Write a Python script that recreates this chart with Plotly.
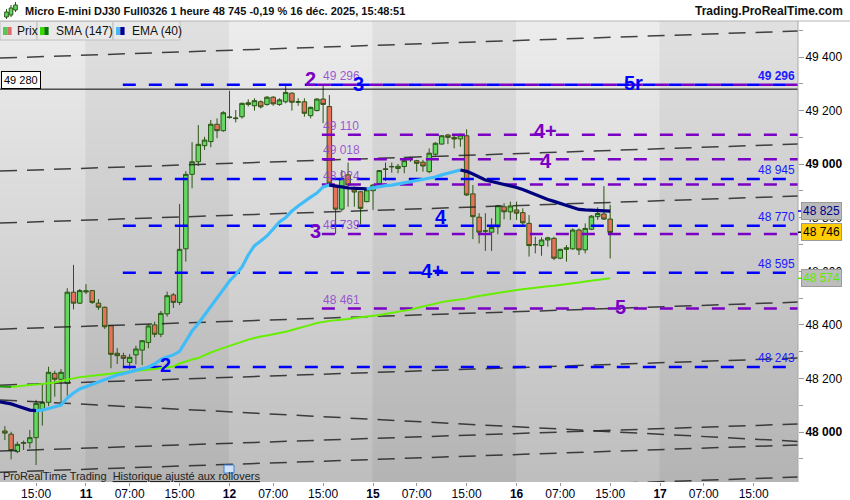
import plotly.graph_objects as go

# ---------------- data ----------------
first_bar = -13
opens = [48004, 47992, 47927, 47958, 47960, 47979, 48085, 48111, 48219, 48197, 48182, 48522, 48481,
         48523, 48528, 48481, 48466, 48397, 48294, 48285, 48260, 48288, 48306, 48334, 48400, 48365, 48441, 48512,
         48484, 48684, 48962, 49009, 49069, 49084, 49149, 49125,
         49174, 49170, 49177, 49223, 49218, 49233, 49223, 49250, 49223, 49233, 49265, 49231, 49233, 49181, 49200,
         49243, 49215, 48916, 48832, 48960, 48910, 48897, 48860,
         48901, 48928, 48980, 48990, 48984, 48991, 49020, 49013, 49007, 48972, 49037, 49075, 49109, 49100, 49094,
         49106, 48889, 48802, 48750, 48746, 48766, 48841, 48822,
         48829, 48819, 48779, 48700, 48696, 48717, 48723, 48649, 48682, 48684, 48754, 48680, 48757, 48804, 48814,
         48795]
highs = [48022, 48001, 47964, 47968, 48008, 48120, 48176, 48244, 48229, 48235, 48537, 48624, 48534,
         48552, 48530, 48496, 48468, 48399, 48313, 48296, 48291, 48322, 48341, 48403, 48412, 48452, 48524, 48519,
         48851, 48974, 49082, 49146, 49102, 49165, 49171, 49198,
         49274, 49202, 49230, 49242, 49246, 49238, 49254, 49254, 49246, 49296, 49268, 49246, 49246, 49215, 49246,
         49296, 49258, 48922, 48978, 49006, 48916, 48899, 48906,
         48926, 48978, 49006, 49006, 49001, 49028, 49028, 49016, 49016, 49059, 49082, 49109, 49113, 49109, 49115,
         49130, 48922, 48817, 48817, 48798, 48848, 48854, 48860,
         48860, 48835, 48810, 48729, 48727, 48729, 48729, 48684, 48698, 48760, 48760, 48779, 48810, 48839, 48918,
         48848]
lows = [47970, 47898, 47921, 47933, 47939, 47877, 48024, 48097, 48132, 48110, 48136, 48458, 48478,
        48515, 48478, 48456, 48385, 48238, 48254, 48244, 48235, 48253, 48250, 48313, 48354, 48354, 48431, 48463,
        48474, 48636, 48910, 48993, 49053, 49063, 49097, 49121,
        49170, 49156, 49170, 49215, 49200, 49208, 49218, 49218, 49218, 49227, 49200, 49218, 49177, 49171, 49197,
        49153, 48916, 48739, 48823, 48841, 48841, 48775, 48858,
        48829, 48925, 48937, 48968, 48966, 48966, 49009, 48972, 48972, 48966, 49032, 49073, 49075, 49059, 49065,
        48881, 48720, 48704, 48676, 48676, 48738, 48794, 48792,
        48792, 48767, 48655, 48667, 48658, 48692, 48642, 48645, 48636, 48680, 48661, 48667, 48754, 48792, 48792,
        48648]
closes = [47996, 47931, 47954, 47960, 47979, 48107, 48111, 48223, 48197, 48223, 48522, 48481, 48528,
          48527, 48484, 48466, 48393, 48290, 48285, 48275, 48279, 48310, 48341, 48396, 48365, 48443, 48509, 48484,
          48682, 48962, 49009, 49074, 49090, 49149, 49125, 49192,
          49176, 49172, 49227, 49229, 49237, 49214, 49250, 49225, 49240, 49268, 49231, 49233, 49190, 49212, 49243,
          49223, 48929, 48832, 48947, 48922, 48896, 48835, 48904,
          48922, 48976, 48982, 48991, 48992, 49013, 49022, 49003, 48993, 49041, 49078, 49106, 49100, 49094, 49109,
          48885, 48804, 48746, 48751, 48764, 48845, 48822, 48844,
          48817, 48781, 48696, 48699, 48717, 48725, 48649, 48682, 48688, 48754, 48680, 48760, 48806, 48816, 48795,
          48745]
bars = list(range(first_bar, first_bar + len(opens)))

first_ma = -14
ema40 = [48114, 48110, 48105, 48097, 48090, 48082, 48080, 48082, 48088, 48093, 48101, 48127, 48146, 48161,
         48170, 48179, 48187, 48194, 48205, 48213, 48218, 48224, 48228, 48235, 48243, 48254, 48271, 48280, 48288,
         48301, 48340, 48377, 48405, 48437, 48472, 48500, 48536,
         48564, 48588, 48616, 48661, 48696, 48713, 48732, 48758, 48784, 48801, 48825, 48844, 48862, 48877, 48892,
         48915, 48922, 48920, 48915, 48911, 48910, 48909, 48908,
         48913, 48918, 48920, 48922, 48926, 48930, 48933, 48937, 48943, 48946, 48952, 48960, 48967, 48974, 48978,
         48973, 48963, 48952, 48941, 48935, 48930, 48926, 48920,
         48913, 48905, 48896, 48885, 48875, 48868, 48861, 48853, 48844, 48836, 48831, 48829, 48828, 48827, 48825,
         48825]
sma147 = [48170, 48169, 48168, 48171, 48174, 48176, 48177, 48179, 48181, 48185, 48191, 48196, 48202, 48205,
          48207, 48210, 48213, 48216, 48219, 48222, 48223, 48226, 48228, 48230, 48232, 48235, 48239, 48243, 48245,
          48256, 48265, 48271, 48276, 48288, 48297, 48306, 48314,
          48321, 48329, 48338, 48345, 48351, 48357, 48360, 48364, 48369, 48374, 48381, 48387, 48392, 48400, 48407,
          48412, 48415, 48417, 48419, 48422, 48426, 48428, 48431,
          48434, 48437, 48441, 48443, 48447, 48452, 48457, 48463, 48469, 48474, 48480, 48485, 48489, 48492, 48495,
          48498, 48504, 48508, 48512, 48515, 48519, 48523, 48526,
          48530, 48533, 48536, 48540, 48541, 48544, 48546, 48549, 48551, 48553, 48558, 48562, 48565, 48568, 48571,
          48574]
ma_x = list(range(first_ma, first_ma + len(ema40)))

blue_levels = [49296, 48945, 48770, 48595, 48243]
purple_levels = [49296, 49110, 49018, 48924, 48739, 48461]
ref_level = 49280
last_price = 48746
last_ema = 48825
last_sma = 48574

# sloped dashed channel lines: price at left edge / right edge of the view
trend_left = [49396, 48974, 48780, 48384, 48175, 47929, 47850, 47731, 48120]
trend_right = [49497, 49075, 48881, 48485, 48276, 48030, 47952, 47832, 47965]

x_ticks = [-8, 0, 7, 15, 23, 30, 38, 46, 53, 61, 69, 76, 84, 92, 99, 107]
x_labels = ["15:00", "11", "07:00", "15:00", "12", "07:00", "15:00", "15", "07:00", "15:00",
            "16", "07:00", "15:00", "17", "07:00", "15:00"]
day_starts = [0, 23, 46, 69, 92]
y_ticks = [48000, 48200, 48400, 48600, 48800, 49000, 49200, 49400]

# ---------------- layout helpers ----------------
W, H = 850, 500
PL, PR, PT, PB = 0, 798, 21, 482
X0, X1 = -13.78, 114.1
Y0, Y1 = 47813.5, 49534.4
FONT = "Liberation Sans, Arial, sans-serif"
BLUE = "#0000ff"
PURPLE = "#7a00c4"


def pxx(x):
    return (x - PL) / (PR - PL)


def pxy(y):
    return (PB - y) / (PB - PT)


def fmt(v):
    return f"{v:,.0f}".replace(",", " ")


fig = go.Figure()

# sloped dashed lines
for a, b in zip(trend_left, trend_right):
    fig.add_trace(go.Scatter(x=[X0, X1], y=[a, b], mode="lines",
                             line=dict(color="rgba(35,35,35,0.85)", width=1.5, dash="17px,10px"),
                             hoverinfo="skip", showlegend=False))

# reference line
fig.add_trace(go.Scatter(x=[X0, X1], y=[ref_level, ref_level], mode="lines",
                         line=dict(color="#000000", width=1), hoverinfo="skip", showlegend=False))

# candles
fig.add_trace(go.Candlestick(
    x=bars, open=opens, high=highs, low=lows, close=closes,
    increasing=dict(fillcolor="#62d862", line=dict(color="#2b5513", width=1)),
    decreasing=dict(fillcolor="#e8715e", line=dict(color="#2b5513", width=1)),
    whiskerwidth=0, showlegend=False, hoverinfo="skip"))

# horizontal levels
BLUE_START = 5.9
PURPLE_START = 37.8
for i, lv in enumerate(purple_levels):
    xs = PURPLE_START if i > 0 else 37.15
    fig.add_trace(go.Scatter(x=[xs, X1], y=[lv, lv], mode="lines",
                             line=dict(color=PURPLE, width=2.5, dash="13px,13px"),
                             hoverinfo="skip", showlegend=False))
for lv in blue_levels:
    fig.add_trace(go.Scatter(x=[BLUE_START, X1], y=[lv, lv], mode="lines",
                             line=dict(color=BLUE, width=2.5, dash="13px,13px"),
                             hoverinfo="skip", showlegend=False))


def colored(xs, ys, up, down, width):
    segs = []
    cur_c, cx, cy = None, [], []
    for i in range(len(xs) - 1):
        c = up if ys[i + 1] > ys[i] else down
        if c != cur_c:
            if cx:
                segs.append((cur_c, cx, cy))
            cur_c, cx, cy = c, [xs[i]], [ys[i]]
        cx.append(xs[i + 1])
        cy.append(ys[i + 1])
    segs.append((cur_c, cx, cy))
    for c, sx, sy in segs:
        fig.add_trace(go.Scatter(x=sx, y=sy, mode="lines", line=dict(color=c, width=width),
                                 hoverinfo="skip", showlegend=False))


colored(ma_x, sma147, "#66ee00", "#2a9a10", 2)
colored(ma_x, ema40, "#40bdf8", "#00007e", 3.2)

shapes = []
# background gradient
N = 47
for k in range(N):
    ya = PT + k * (PB - PT) / N
    yb = PT + (k + 1) * (PB - PT) / N + 0.8
    t = (k + 0.5) / N
    g = int(round(237 - t * (237 - 189)))
    shapes.append(dict(type="rect", xref="paper", yref="paper", x0=0, x1=1,
                       y0=pxy(min(yb, PB)), y1=pxy(ya), line=dict(width=0),
                       fillcolor=f"rgb({g},{g},{g})", layer="below"))
# darker day bands
for d0, d1 in [(day_starts[0], day_starts[1]), (day_starts[2], day_starts[3]), (day_starts[4], X1 + 1)]:
    shapes.append(dict(type="rect", xref="x", yref="paper", x0=d0 - 0.1, x1=min(d1 - 0.1, X1),
                       y0=0, y1=1, line=dict(width=0), fillcolor="rgba(0,0,0,0.05)", layer="below"))
# header separator
shapes.append(dict(type="line", xref="paper", yref="paper", x0=0, x1=W / PR, y0=1, y1=1,
                   line=dict(color="#b4b4b4", width=1)))
# legend boxes
for xa, xb in [(0, 37), (37, 113), (113, 180)]:
    shapes.append(dict(type="rect", xref="paper", yref="paper", x0=pxx(xa), x1=pxx(xb),
                       y0=pxy(40), y1=pxy(21.5), fillcolor="#e9e9e9", line=dict(color="#c0c0c0", width=1)))
for xa, c1, c2 in [(3, "#55c855", "#e26a6a"), (40, "#33dd00", "#007a00"), (116, "#47b8f5", "#000099")]:
    shapes.append(dict(type="rect", xref="paper", yref="paper", x0=pxx(xa), x1=pxx(xa + 4.3),
                       y0=pxy(35), y1=pxy(27), fillcolor=c1, line=dict(width=0)))
    shapes.append(dict(type="rect", xref="paper", yref="paper", x0=pxx(xa + 4.3), x1=pxx(xa + 8.6),
                       y0=pxy(35), y1=pxy(27), fillcolor=c2, line=dict(width=0)))
# header icon (three small candles)
for cx, wy0, wy1, by0, by1 in [(6.5, 9, 19, 12, 17), (11, 5, 17, 8, 15), (15.5, 2, 12, 5, 10)]:
    shapes.append(dict(type="line", xref="paper", yref="paper", x0=pxx(cx), x1=pxx(cx),
                       y0=pxy(wy1), y1=pxy(wy0), line=dict(color="#2b5513", width=1)))
    shapes.append(dict(type="rect", xref="paper", yref="paper", x0=pxx(cx - 1.8), x1=pxx(cx + 1.8),
                       y0=pxy(by1), y1=pxy(by0), fillcolor="#62d862", line=dict(color="#2b5513", width=1)))
# calendar icon
shapes.append(dict(type="rect", xref="paper", yref="paper", x0=pxx(224), x1=pxx(234),
                   y0=pxy(473), y1=pxy(465), fillcolor="#cfe2f7", line=dict(color="#3b7dd8", width=1)))
# y-axis right border
shapes.append(dict(type="line", xref="paper", yref="paper", x0=1, x1=1, y0=0, y1=1,
                   line=dict(color="#a8a8a8", width=1)))
# small coloured ticks for the value tags
for v, c in [(last_ema, "#0000cc"), (last_price, "#000000"), (last_sma, "#55ee00")]:
    shapes.append(dict(type="line", xref="paper", yref="y", x0=1, x1=pxx(803), y0=v, y1=v,
                       line=dict(color=c, width=1.5)))

ann = []
# header texts
ann.append(dict(xref="paper", yref="paper", x=pxx(23), y=pxy(11), xanchor="left", yanchor="middle",
                text="<b>Micro E-mini DJ30 Full0326 1 heure 48 745 -0,19 % 16 déc. 2025, 15:48:51</b>",
                showarrow=False, font=dict(family=FONT, size=11, color="#111111")))
ann.append(dict(xref="paper", yref="paper", x=pxx(845), y=pxy(11), xanchor="right", yanchor="middle",
                text="<b>Trading.ProRealTime.com</b>", showarrow=False,
                font=dict(family=FONT, size=12, color="#111111")))
for xa, t in [(15, "Prix"), (54, "SMA (147)"), (130, "EMA (40)")]:
    ann.append(dict(xref="paper", yref="paper", x=pxx(xa), y=pxy(31), xanchor="left", yanchor="middle",
                    text=t, showarrow=False, font=dict(family=FONT, size=12, color="#111111")))
# bottom note
ann.append(dict(xref="paper", yref="paper", x=pxx(1), y=pxy(476), xanchor="left", yanchor="middle",
                text="ProRealTime Trading  <u>Historique ajusté aux rollovers</u>", showarrow=False,
                font=dict(family=FONT, size=11, color="#222222")))
# ref level box
ann.append(dict(xref="paper", yref="y", x=0.001, y=ref_level, xanchor="left", yanchor="bottom",
                text=fmt(ref_level), showarrow=False, bgcolor="#ffffff", bordercolor="#000000",
                borderwidth=1, borderpad=2, font=dict(family=FONT, size=11, color="#000000")))
# blue level labels (right)
for i, lv in enumerate(blue_levels):
    t = f"<b>{fmt(lv)}</b>" if i == 0 else fmt(lv)
    ann.append(dict(xref="paper", yref="y", x=pxx(797), y=lv, xanchor="right", yanchor="bottom",
                    text=t, showarrow=False, yshift=0,
                    font=dict(family=FONT, size=12, color="#1a1aff")))
# purple level labels (left of purple lines)
for lv in purple_levels:
    ann.append(dict(xref="x", yref="y", x=PURPLE_START - 0.1, y=lv, xanchor="left", yanchor="bottom",
                    text=fmt(lv), showarrow=False,
                    font=dict(family=FONT, size=12, color="rgba(140,60,205,0.85)")))
# big wave labels
big = [("2", 35.9, purple_levels[0], 6, PURPLE), ("3", 43.6, blue_levels[0], 1, BLUE),
       ("5r", 87.8, blue_levels[0], 2, BLUE), ("4+", 73.7, purple_levels[1], 4, PURPLE),
       ("4", 73.7, purple_levels[2], -2, PURPLE), ("3", 36.7, purple_levels[4], 3, PURPLE),
       ("4", 56.9, blue_levels[2], 9, BLUE), ("4+", 55.6, blue_levels[3], 2, BLUE),
       ("5", 85.6, purple_levels[5], 1.5, PURPLE), ("2", 12.8, blue_levels[4], 1.5, BLUE)]
for t, x, y, ys, c in big:
    ann.append(dict(xref="x", yref="y", x=x, y=y, yshift=ys, xanchor="center", yanchor="middle",
                    text=f"<b>{t}</b>", showarrow=False, font=dict(family=FONT, size=20, color=c)))
# right value tags
for v, bg, fc in [(last_ema, "#b9b9b9", "#00008b"), (last_price, "#ffcc00", "#000000"),
                  (last_sma, "#bdbdbd", "#55ee00")]:
    ann.append(dict(xref="paper", yref="y", x=pxx(801), y=v, xanchor="left", yanchor="middle",
                    text=fmt(v), showarrow=False, bgcolor=bg, bordercolor="#9a9a9a", borderwidth=1,
                    borderpad=1, font=dict(family=FONT, size=12, color=fc)))

tick_text_y = [f"<b>{fmt(v)}</b>" if v % 1000 == 0 else fmt(v) for v in y_ticks]
tick_text_x = [f"<b>{t}</b>" if ":" not in t else t for t in x_labels]

fig.update_layout(
    width=W, height=H,
    margin=dict(l=PL, r=W - PR, t=PT, b=H - PB, pad=0),
    paper_bgcolor="#ffffff", plot_bgcolor="#d8d8d8",
    showlegend=False, boxgap=0.1, boxgroupgap=0.2,
    shapes=shapes, annotations=ann,
    font=dict(family=FONT, size=12, color="#000000"),
    xaxis=dict(range=[X0, X1], showgrid=False, zeroline=False, rangeslider=dict(visible=False),
               tickmode="array", tickvals=x_ticks, ticktext=tick_text_x, ticks="outside",
               ticklen=3, tickcolor="#999999", ticklabelstandoff=-2,
               tickfont=dict(family=FONT, size=12, color="#000022"),
               showline=False, fixedrange=True, automargin=False),
    yaxis=dict(range=[Y0, Y1], side="right", showgrid=False, zeroline=False,
               tickmode="array", tickvals=y_ticks, ticktext=tick_text_y, ticks="outside",
               ticklen=5, tickcolor="#999999", ticklabelstandoff=-1,
               tickfont=dict(family=FONT, size=12, color="#000000"),
               minor=dict(ticks="outside", ticklen=4, tickcolor="#999999", dtick=100, tick0=48000),
               showline=False, fixedrange=True, automargin=False),
)

fig.write_html("out.html", config={"displayModeBar": False},
               post_script="document.body.style.margin='0px';document.body.style.overflow='hidden';")
